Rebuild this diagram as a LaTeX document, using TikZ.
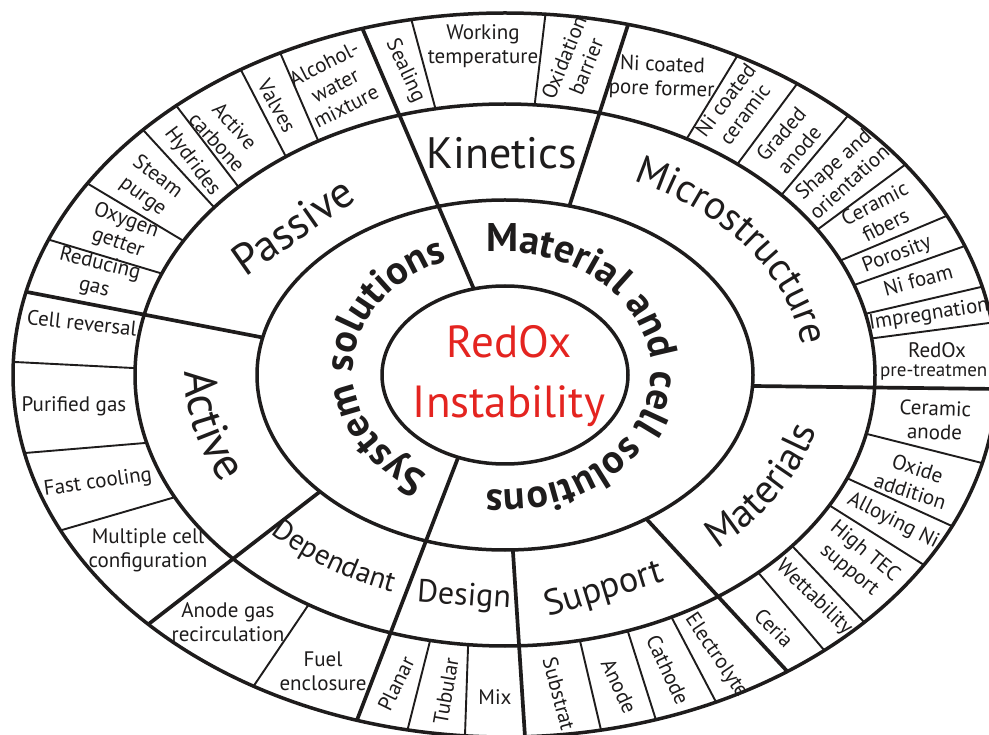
\documentclass[tikz,border=0pt]{standalone}
\usepackage{fontspec}
\setmainfont{PT Sans}
\usetikzlibrary{calc,decorations.text}
\definecolor{redox}{RGB}{228,36,32}
\definecolor{ink}{RGB}{30,28,28}
\begin{document}
\begin{tikzpicture}[x=1pt,y=-1pt,
  ringline/.style={line width=3.5pt, draw=ink},
  thickdiv/.style={line width=3.7pt, draw=ink},
  thindiv/.style={line width=1.9pt, draw=ink},
  lbl/.style={font=\fontsize{21}{24}\selectfont, align=center, inner sep=0pt, text=ink},
  cat/.style={inner sep=0pt, text=ink},
]
\useasboundingbox (0,0) rectangle (989,735);
\fill[white] (0,0) rectangle (989,735);
\clip (0,0) rectangle (989,735);
\coordinate (O) at (505,375);
% thin dividers of the outer ring
\begin{scope}
\clip (O) ellipse [x radius=492, y radius=362];
\foreach \xa/\ya/\xb/\yb in {160/273/50/240, 182/240/90/185, 212/205/145/132,
  237/185/178/108, 285/155/242/72, 317/138/282/57, 435/107/412/22, 535/102/545/18,
  689/135/736/58, 739/162/794/88, 784/192/846/118, 821/227/902/167, 844/259/944/217,
  857/284/962/247, 869/313/981/287, 875/338/989/323, 871/435/982/463, 851/480/954/527,
  832/507/924/565, 796/550/864/622, 762/577/824/650, 674/622/716/702, 629/635/656/720,
  581/645/601/730, 468/648/465/735, 429/645/408/728, 305/610/253/687, 172/498/62/530,
  145/443/25/453, 133/368/15/362}
  \draw[thindiv] ($(\xb,\yb)!1.2!(\xa,\ya)$) -- ($(\xa,\ya)!1.2!(\xb,\yb)$);
\end{scope}
\fill[white] (O) ellipse [x radius=370, y radius=271];
% thick dividers from ring 2 outwards
\begin{scope}
\clip (O) ellipse [x radius=492, y radius=362];
\foreach \xa/\ya/\xb/\yb in {572/198/627/28, 753/386/997/389, 652/525/786/670,
  513/552/525/737, 313/497/150/623, 260/337/27/292}
  \draw[thickdiv] ($(\xb,\yb)!1.2!(\xa,\ya)$) -- ($(\xa,\ya)!1.2!(\xb,\yb)$);
\end{scope}
\fill[white] (O) ellipse [x radius=248, y radius=175];
% thick dividers from the core outwards
\begin{scope}
\clip (O) ellipse [x radius=492, y radius=362];
\foreach \xa/\ya/\xb/\yb in {473/287/363/30, 456/463/357/720}
  \draw[thickdiv] ($(\xb,\yb)!1.2!(\xa,\ya)$) -- ($(\xa,\ya)!1.2!(\xb,\yb)$);
\end{scope}
\fill[white] (O) ellipse [x radius=123, y radius=89];
% ellipses
\draw[ringline] (O) ellipse [x radius=492, y radius=362];
\draw[ringline] (O) ellipse [x radius=370, y radius=271];
\draw[ringline] (O) ellipse [x radius=248, y radius=175];
\draw[ringline] (O) ellipse [x radius=123, y radius=89];
% core
\node[inner sep=0pt, align=center, text=redox, font=\fontsize{45}{60}\selectfont] (core) at (509,376) {RedOx\\Instability};
% ring 2 curved titles
\path[decorate, decoration={text along path, text align=center,
  text={|\fontsize{40}{42}\selectfont\bfseries\color{ink}|Material and cell solutions}}]
  (502,371) ++(-106:149 and 119) arc[start angle=-106, end angle=106, x radius=149, y radius=119];
\path[decorate, decoration={text along path, text align=center,
  text={|\fontsize{40}{42}\selectfont\bfseries\color{ink}|System solutions}}]
  (502,371) ++(-252:149 and 119) arc[start angle=-252, end angle=-100, x radius=149, y radius=119];
% ring 3 titles
\node[cat, font=\fontsize{44}{50}\selectfont, rotate=35] (passive) at (293,226) {Passive};
\node[cat, font=\fontsize{44}{50}\selectfont] (kinetics) at (502,153) {Kinetics};
\node[cat, font=\fontsize{36}{40}\selectfont, rotate=17] (support) at (604,590) {Support};
\node[cat, font=\fontsize{32}{36}\selectfont, rotate=-4] (design) at (464,597) {Design};
\path[decorate, decoration={text along path, text align=center,
  text={|\fontsize{40}{44}\selectfont\color{ink}|Microstructure}}]
  (O) ++(-72:300 and 215) arc[start angle=-72, end angle=2, x radius=300, y radius=215];
\path[decorate, decoration={text along path, text align=center,
  text={|\fontsize{40}{44}\selectfont\color{ink}|Materials}}]
  (O) ++(-296:320 and 232) arc[start angle=-296, end angle=-366, x radius=320, y radius=232];
\path[decorate, decoration={text along path, text align=center,
  text={|\fontsize{46}{50}\selectfont\color{ink}|Active}}]
  (O) ++(-161:320 and 232) arc[start angle=-161, end angle=-224, x radius=320, y radius=232];
\path[decorate, decoration={text along path, text align=center,
  text={|\fontsize{29}{33}\selectfont\color{ink}|Dependant}}]
  (O) ++(-203.5:320 and 232) arc[start angle=-203.5, end angle=-265.5, x radius=320, y radius=232];
% outer ring labels
\node[lbl, rotate=-14] (t01) at (97,276) {Reducing\\gas};
\node[lbl, rotate=-20] (t02) at (122,232) {Oxygen\\getter};
\node[lbl, rotate=-37] (t03) at (150,187) {Steam\\purge};
\node[lbl, rotate=-53] (t04) at (192,162) {Hydrides};
\node[lbl, rotate=-48] (t05) at (226,134) {Active\\carbone};
\node[lbl, rotate=-61] (t06) at (277,106) {Valves};
\node[lbl, rotate=27] (t07) at (335,85) {Alcohol-\\water\\mixture};
\node[lbl, rotate=-65] (t08) at (405,71) {Sealing};
\node[lbl] (t09) at (483,46) {Working\\temperature};
\node[lbl, rotate=68] (t10) at (575,62) {Oxidation\\barrier};
\node[lbl, rotate=-2] (t11) at (662,78) {Ni coated\\pore former};
\node[lbl, rotate=53] (t12) at (735,107) {Ni coated\\ceramic};
\node[lbl, rotate=49] (t13) at (790,142) {Graded\\anode};
\node[lbl, rotate=42] (t14) at (841,173) {Shape and\\orientation};
\node[lbl, rotate=27] (t15) at (880,214) {Ceramic\\fibers};
\node[lbl, rotate=21] (t16) at (897,255) {Porosity};
\node[lbl, rotate=15] (t17) at (918,280) {Ni foam};
\node[lbl, rotate=9] (t18) at (929,315) {Impregnation};
\node[lbl] (t19) at (937,350) {RedOx};
\node[lbl, font=\fontsize{19}{23}\selectfont, anchor=west] (t19b) at (880,372) {pre-treatmen};
\node[lbl, rotate=-2] (t20) at (935,420) {Ceramic\\anode};
\node[lbl, rotate=-18] (t21) at (914,480) {Oxide\\addition};
\node[lbl, rotate=-27] (t22) at (893,521) {Alloying Ni};
\node[lbl, rotate=-40] (t23) at (857,561) {High TEC\\support};
\node[lbl, rotate=-44] (t24) at (814,598) {Wettability};
\node[lbl, rotate=-45] (t25) at (774,628) {Ceria};
\node[lbl, rotate=-56] (t26) at (716,656) {Electrolyte};
\node[lbl, rotate=-65] (t27) at (668,670) {Cathode};
\node[lbl, rotate=-65] (t28) at (619,686) {Anode};
\node[lbl, rotate=-75] (t29) at (559,694) {Substrat};
\node[lbl] (t30) at (495,697) {Mix};
\node[lbl, rotate=80] (t31) at (446,691) {Tubular};
\node[lbl, rotate=64] (t32) at (396,684) {Planar};
\node[lbl] (t33) at (323,671) {Fuel\\enclosure};
\node[lbl] (t34) at (228,622) {Anode gas\\recirculation};
\node[lbl] (t35) at (148,550) {Multiple cell\\configuration};
\node[lbl, rotate=8] (t36) at (98,483) {Fast cooling};
\node[lbl] (t37) at (74,406) {Purified gas};
\node[lbl, rotate=-6] (t38) at (82,323) {Cell reversal};
\end{tikzpicture}
\end{document}
